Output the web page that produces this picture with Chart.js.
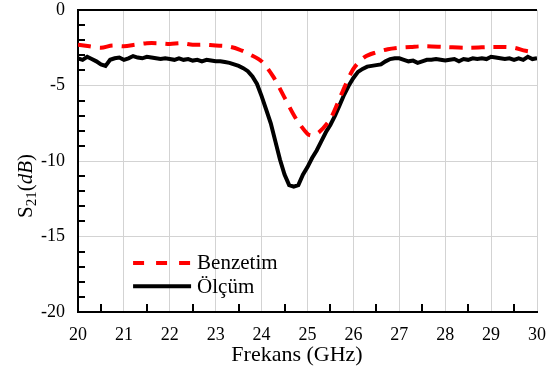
<!DOCTYPE html>
<html><head><meta charset="utf-8">
<script src="https://cdn.jsdelivr.net/npm/chart.js@4/dist/chart.umd.min.js"></script>
<style>html,body{margin:0;padding:0;background:#fff}#wrap{width:555px;height:370px}</style>
</head><body><div id="wrap"><canvas id="c" width="555" height="370"></canvas></div>
<script>
// Simulation (Benzetim)
const freqSim = [20.0,20.25,20.5,20.75,21.0,21.25,21.5,21.75,22.0,22.25,22.5,22.75,23.0,23.25,23.5,23.75,24.0,24.25,24.5,24.75,25.0,25.1,25.25,25.5,25.75,26.0,26.25,26.5,26.75,27.0,27.25,27.5,28.0,28.5,29.0,29.25,29.5,29.75,30.0];
const s21Sim  = [-2.3,-2.4,-2.5,-2.35,-2.4,-2.3,-2.2,-2.2,-2.25,-2.2,-2.3,-2.3,-2.35,-2.4,-2.6,-2.95,-3.4,-4.4,-5.8,-7.2,-8.2,-8.3,-8.1,-7.2,-5.5,-3.9,-3.1,-2.8,-2.6,-2.5,-2.45,-2.4,-2.45,-2.5,-2.45,-2.45,-2.5,-2.7,-2.8];
// Measurement (Ölçüm)
const freqMeas = [20.0,20.1,20.2,20.3,20.4,20.5,20.6,20.7,20.8,20.9,21.0,21.1,21.2,21.3,21.4,21.5,21.6,21.7,21.8,21.9,22.0,22.1,22.2,22.3,22.4,22.5,22.6,22.7,22.8,22.9,23.0,23.1,23.2,23.3,23.4,23.5,23.6,23.7,23.8,23.9,24.0,24.1,24.2,24.3,24.4,24.5,24.6,24.7,24.8,24.9,25.0,25.1,25.2,25.3,25.4,25.5,25.6,25.7,25.8,25.9,26.0,26.1,26.2,26.3,26.4,26.5,26.6,26.7,26.8,26.9,27.0,27.1,27.2,27.3,27.4,27.5,27.6,27.7,27.8,27.9,28.0,28.1,28.2,28.3,28.4,28.5,28.6,28.7,28.8,28.9,29.0,29.1,29.2,29.3,29.4,29.5,29.6,29.7,29.8,29.9,30.0];
const s21Meas  = [-3.2,-3.3,-3.1,-3.25,-3.4,-3.6,-3.7,-3.3,-3.2,-3.15,-3.3,-3.2,-3.05,-3.15,-3.2,-3.1,-3.15,-3.2,-3.25,-3.2,-3.25,-3.3,-3.2,-3.3,-3.25,-3.35,-3.3,-3.4,-3.3,-3.35,-3.4,-3.4,-3.45,-3.5,-3.6,-3.7,-3.85,-4.05,-4.4,-4.9,-5.7,-6.6,-7.5,-8.7,-9.9,-10.9,-11.6,-11.7,-11.6,-10.9,-10.4,-9.8,-9.3,-8.7,-8.1,-7.6,-7.0,-6.3,-5.6,-5.0,-4.5,-4.1,-3.9,-3.75,-3.7,-3.65,-3.6,-3.4,-3.25,-3.2,-3.2,-3.3,-3.4,-3.35,-3.5,-3.4,-3.3,-3.3,-3.25,-3.3,-3.35,-3.3,-3.25,-3.4,-3.25,-3.3,-3.2,-3.25,-3.2,-3.25,-3.1,-3.15,-3.2,-3.25,-3.2,-3.3,-3.2,-3.3,-3.1,-3.25,-3.2];
const seriesNames = ['Benzetim','Ölçüm'];
const xTitle = 'Frekans (GHz)';
const yTitleParts = ['S','21','(','dB',')'];

const SERIF = '"Liberation Serif", "DejaVu Serif", serif';

const extras = {
  id:'extras',
  afterDraw(chart){
    const ctx = chart.ctx, a = chart.chartArea;
    const xs = chart.scales.x, ys = chart.scales.y;
    ctx.save();
    // minor ticks
    ctx.strokeStyle = '#000'; ctx.lineWidth = 2;
    for (let v = 20.5; v < 30; v += 1) {
      const px = Math.round(xs.getPixelForValue(v));
      ctx.beginPath(); ctx.moveTo(px, a.bottom); ctx.lineTo(px, a.bottom - 8); ctx.stroke();
    }
    for (let v = -19; v < 0; v += 1) {
      if (v % 5 === 0) continue;
      const py = Math.round(ys.getPixelForValue(v));
      ctx.beginPath(); ctx.moveTo(a.left, py); ctx.lineTo(a.left + 7, py); ctx.stroke();
    }
    // legend
    const lx = xs.getPixelForValue(21.2), ly1 = ys.getPixelForValue(-16.75), ly2 = ys.getPixelForValue(-18.3);
    ctx.lineWidth = 4;
    ctx.strokeStyle = '#ff0000'; ctx.setLineDash([11,12]);
    ctx.beginPath(); ctx.moveTo(lx, ly1); ctx.lineTo(lx + 60, ly1); ctx.stroke();
    ctx.setLineDash([]);
    ctx.strokeStyle = '#000';
    ctx.beginPath(); ctx.moveTo(lx, ly2); ctx.lineTo(lx + 58, ly2); ctx.stroke();
    ctx.fillStyle = '#000'; ctx.font = '21px ' + SERIF; ctx.textBaseline = 'middle'; ctx.textAlign = 'left';
    ctx.fillText(seriesNames[0], lx + 64, ly1 + 1);
    ctx.fillText(seriesNames[1], lx + 64, ly2 + 1);
    // x title
    ctx.font = '22px ' + SERIF;
    ctx.textAlign = 'center'; ctx.textBaseline = 'alphabetic';
    ctx.fillText(xTitle, 297, 361);
    // y title (rotated, mixed styles)
    ctx.translate(32, 186); ctx.rotate(-Math.PI/2);
    const fonts = ['21px ' + SERIF, '15px ' + SERIF, '21px ' + SERIF, 'italic 21px ' + SERIF, '21px ' + SERIF];
    const offs = [0, 4, 0, 0, 0];
    let w = 0;
    yTitleParts.forEach((t,i)=>{ ctx.font = fonts[i]; w += ctx.measureText(t).width; });
    let x = -w/2;
    ctx.textAlign = 'left';
    yTitleParts.forEach((t,i)=>{ ctx.font = fonts[i]; ctx.fillText(t, x, offs[i]); x += ctx.measureText(t).width; });
    ctx.restore();
  }
};

new Chart(document.getElementById('c'), {
  type:'line',
  data:{datasets:[
    {label:seriesNames[0], data:freqSim.map((f,i)=>({x:f,y:s21Sim[i]})), borderColor:'#ff0000', borderWidth:4, borderDash:[13,9], pointRadius:0, tension:0.3, fill:false},
    {label:seriesNames[1], data:freqMeas.map((f,i)=>({x:f,y:s21Meas[i]})), borderColor:'#000000', borderWidth:4, pointRadius:0, tension:0, fill:false}
  ]},
  options:{
    responsive:false, animation:false, devicePixelRatio:1,
    layout:{padding:{left:0,right:18,top:10,bottom:0}},
    plugins:{legend:{display:false}, tooltip:{enabled:false}},
    scales:{
      x:{type:'linear', min:20, max:30,
        ticks:{stepSize:1, color:'#000', font:{family:SERIF,size:18}, padding:12, maxRotation:0},
        grid:{color:'#d3d3d3', lineWidth:1, drawTicks:false},
        border:{color:'#000', width:2},
        afterFit(s){ s.height = 58; s.paddingLeft = 0; s.paddingRight = 0; }
      },
      y:{min:-20, max:0,
        ticks:{stepSize:5, color:'#000', font:{family:SERIF,size:18}, padding:13},
        grid:{color:(c)=>c.tick && c.tick.value===0 ? '#000' : '#d3d3d3', lineWidth:(c)=>c.tick && c.tick.value===0 ? 2 : 1, drawTicks:false},
        border:{color:'#000', width:2},
        afterFit(s){ s.width = 78; s.paddingTop = 0; s.paddingBottom = 0; }
      }
    }
  },
  plugins:[extras]
});
</script>
</body></html>
